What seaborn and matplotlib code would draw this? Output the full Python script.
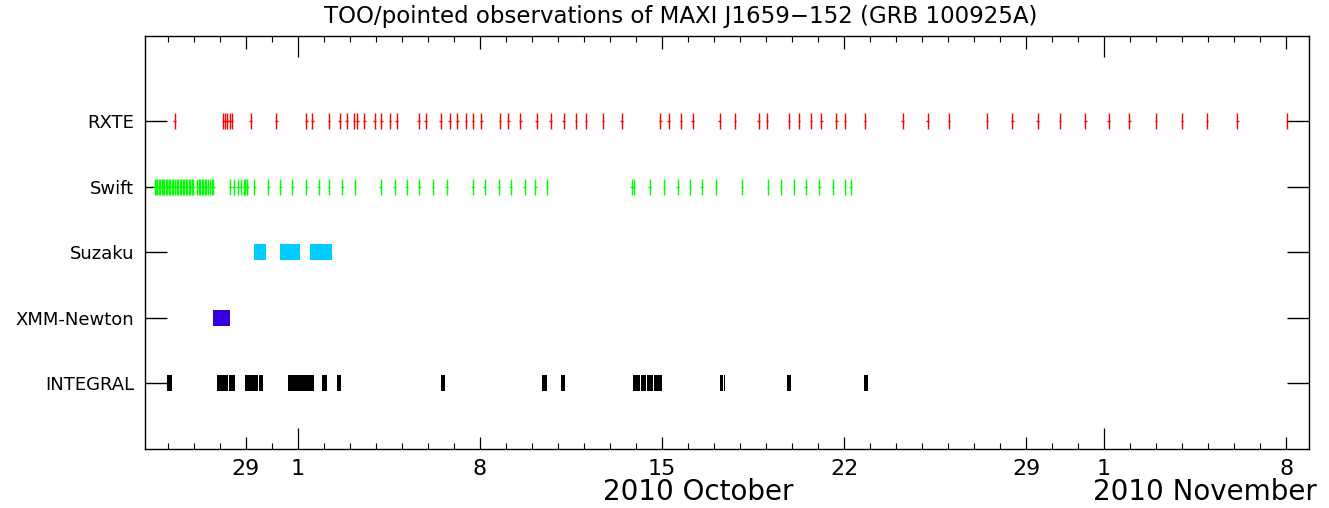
import matplotlib
matplotlib.use("Agg")
import matplotlib.pyplot as plt
import seaborn as sns
import pandas as pd
from matplotlib.ticker import FixedLocator, FixedFormatter, MultipleLocator

# ---------------- data (days relative to 2010 Oct 1, 0h) ----------------
missions = ["INTEGRAL", "XMM-Newton", "Suzaku", "Swift", "RXTE"]
mission_rows = [1, 2, 3, 4, 5]

rxte_days = [-4.74, -2.87, -2.79, -2.71, -2.63, -2.55, -1.82, -0.83, 0.33, 0.55,
             1.19, 1.60, 1.87, 2.15, 2.28, 2.56, 2.95, 3.21, 3.54, 3.80, 4.64,
             4.91, 5.49, 5.83, 6.13, 6.46, 6.73, 7.05, 7.77, 8.09, 8.55, 9.18,
             9.72, 10.22, 10.70, 11.08, 11.73, 12.45, 13.94, 14.26, 14.73, 15.18,
             16.22, 16.81, 17.72, 18.04, 18.88, 19.27, 19.73, 20.13, 20.70, 21.03,
             21.81, 23.26, 24.22, 25.03, 26.50, 27.47, 28.44, 29.30, 30.28, 31.18,
             31.97, 33.00, 33.99, 34.96, 36.13, 38.03]

swift_days = [-5.513, -5.462, -5.410, -5.359, -5.308, -5.244, -5.192, -5.141,
              -5.077, -5.026, -4.962, -4.910, -4.846, -4.795, -4.744, -4.667,
              -4.615, -4.551, -4.487, -4.436, -4.385, -4.321, -4.256, -4.205,
              -4.141, -4.090, -4.026, -3.872, -3.821, -3.756, -3.705, -3.641,
              -3.590, -3.526, -3.462, -3.385, -3.321, -3.256,
              -2.60, -2.47, -2.32, -2.20, -2.09, -2.03, -1.97, -1.94, -1.68,
              -1.14, -0.67, -0.21, 0.33, 0.80, 1.20, 1.71, 2.19, 3.18, 3.72,
              4.18, 4.67, 5.19, 5.72, 6.72, 7.18, 7.72, 8.18, 8.72, 9.13, 9.58,
              12.83, 12.91, 13.53, 14.07, 14.60, 15.07, 15.53, 16.07, 17.07,
              18.07, 18.58, 19.07, 19.53, 20.05, 20.58, 21.04, 21.26]

suzaku_start = [-1.68, -0.69, 0.45]
suzaku_end = [-1.22, 0.065, 1.31]

xmm_start = [-3.25]
xmm_end = [-2.63]

integral_start = [-5.03, -3.10, -2.65, -2.05, -1.67, -1.50, -0.38, 0.93, 1.51,
                  5.50, 9.40, 10.13, 12.87, 13.18, 13.41, 13.69, 16.24, 16.39,
                  18.80, 21.78]
integral_end = [-4.86, -2.70, -2.40, -1.70, -1.53, -1.36, 0.63, 1.13, 1.64,
                5.64, 9.56, 10.28, 13.14, 13.37, 13.65, 14.01, 16.36, 16.42,
                18.95, 21.92]

tick_days = [-2, 0, 7, 14, 21, 28, 31, 38]
tick_labels = ["29", "1", "8", "15", "22", "29", "1", "8"]
month_start_days = [0, 31]

colors = {"RXTE": "#ff0000", "Swift": "#00ff00", "Suzaku": "#00ccff",
          "XMM-Newton": "#3300dd", "INTEGRAL": "#000000"}

# ---------------- figure ----------------
sns.set_style("ticks")
plt.rcParams["font.family"] = ["DejaVu Sans"]
plt.rcParams["text.color"] = "black"
plt.rcParams["xtick.color"] = "black"
plt.rcParams["ytick.color"] = "black"
plt.rcParams["xtick.labelcolor"] = "black"
plt.rcParams["ytick.labelcolor"] = "black"

fig = plt.figure(figsize=(13.29, 5.08), dpi=100)
ax = fig.add_axes([145 / 1329, 59 / 508, 1164 / 1329, 413 / 508])

row_of = dict(zip(missions, mission_rows))

# pointed observations drawn as short ticks
ticks_df = pd.concat([
    pd.DataFrame({"day": rxte_days, "mission": "RXTE"}),
    pd.DataFrame({"day": swift_days, "mission": "Swift"}),
], ignore_index=True)
ticks_df["row"] = ticks_df["mission"].map(row_of)

ax.hlines(ticks_df["row"], ticks_df["day"] - 0.05, ticks_df["day"] + 0.05,
          colors=ticks_df["mission"].map(colors), lw=1.0, zorder=2)
sns.scatterplot(data=ticks_df, x="day", y="row", hue="mission",
                palette={"RXTE": colors["RXTE"], "Swift": colors["Swift"]},
                marker="|", s=135, linewidth=1.0, legend=False, ax=ax, zorder=3)

# longer observations drawn as filled blocks
def blocks(starts, ends, name):
    widths = [e - s for s, e in zip(starts, ends)]
    ax.barh([row_of[name]] * len(starts), widths, left=starts, height=0.245,
            color=colors[name], edgecolor="none", zorder=3)

blocks(suzaku_start, suzaku_end, "Suzaku")
blocks(xmm_start, xmm_end, "XMM-Newton")
blocks(integral_start, integral_end, "INTEGRAL")

# ---------------- axes ----------------
ax.set_xlim(-5.88, 38.88)
ax.set_ylim(0, 6.3)
ax.set_xlabel("")
ax.set_ylabel("")

ax.xaxis.set_major_locator(FixedLocator(tick_days))
ax.xaxis.set_major_formatter(FixedFormatter(tick_labels))
ax.xaxis.set_minor_locator(MultipleLocator(1))
ax.tick_params(axis="x", which="major", direction="in", length=9, width=0.9,
               top=True, bottom=True, labelsize=16, pad=7, color="black",
               labelcolor="black")
ax.tick_params(axis="x", which="minor", direction="in", length=4.3, width=0.8,
               top=True, bottom=True, color="black")
for t, d in zip(ax.xaxis.get_major_ticks(), tick_days):
    if d in month_start_days:
        t.tick1line.set_markersize(15)
        t.tick2line.set_markersize(15)

ax.set_yticks(mission_rows)
ax.set_yticklabels(missions)
ax.tick_params(axis="y", which="major", direction="in", length=16, width=1.0,
               left=True, right=True, labelsize=13, pad=8, color="black",
               labelcolor="black")
ax.tick_params(axis="y", which="minor", left=False, right=False)

for sp in ax.spines.values():
    sp.set_visible(True)
    sp.set_color("black")
    sp.set_linewidth(1.0)

fig.text(681 / 1329, 1 - 17 / 508,
         "TOO/pointed observations of MAXI J1659\u2212152 (GRB 100925A)",
         ha="center", va="center", fontsize=16.5, color="black")

fig.text(698 / 1329, 1 - 492 / 508, "2010 October", ha="center", va="center",
         fontsize=20, color="black")
fig.text(1205 / 1329, 1 - 492 / 508, "2010 November", ha="center", va="center",
         fontsize=20, color="black")

fig.savefig("out.png", dpi=100)
